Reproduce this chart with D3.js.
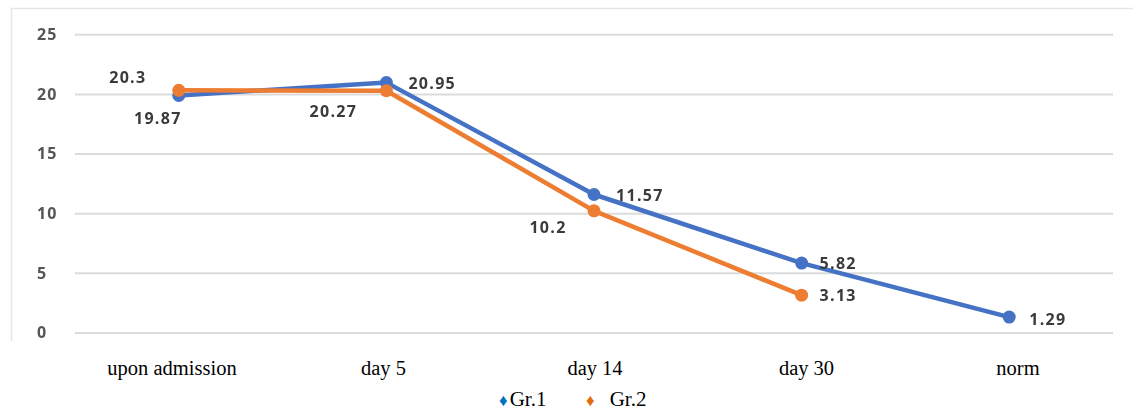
<!DOCTYPE html>
<html>
<head>
<meta charset="utf-8">
<script src="https://cdn.jsdelivr.net/npm/d3@7"></script>
<style>
  html, body { margin: 0; padding: 0; background: #fff; }
  svg { display: block; }
</style>
</head>
<body>
<svg id="chart" width="1133" height="413"></svg>
<script>
// Categories and series
const categories = ["upon admission", "day 5", "day 14", "day 30", "norm"];
const gr1Values = [19.87, 20.95, 11.57, 5.82, 1.29];
const gr2Values = [20.3, 20.27, 10.2, 3.13];
const yTicks = [0, 5, 10, 15, 20, 25];
const seriesNames = ["Gr.1", "Gr.2"];

// Data-label placement per point: [dx, dy, anchor]
const gr1LabelPos = [[-21, 23, "middle"], [22, 1, "start"], [22, 1, "start"], [18, 0, "start"], [20, 2, "start"]];
const gr2LabelPos = [[-51, -13, "middle"], [-53, 21, "middle"], [-46, 16, "middle"], [18, 0, "start"]];

const colors = { gr1: "#4472C4", gr2: "#ED7D31" };
const legendColors = ["#0070C0", "#E36C0A"];

const svg = d3.select("#chart");

// soft look of the embedded spreadsheet graphic
const defs = svg.append("defs");
defs.append("filter").attr("id", "soft")
  .attr("x", "-5%").attr("y", "-5%").attr("width", "110%").attr("height", "110%")
  .append("feGaussianBlur").attr("stdDeviation", 0.6);

const plot = { left: 75, right: 1113, top: 34.3, bottom: 332.5 };

const x = d3.scalePoint().domain(categories).range([plot.left, plot.right]).padding(0.5);
const y = d3.scaleLinear().domain([0, 25]).range([plot.bottom, plot.top]);
// category captions sit on their own slightly wider spacing
const xCaption = d3.scalePoint().domain(categories).range([172, 1018]);

const chart = svg.append("g").attr("filter", "url(#soft)");

// chart frame
chart.append("path")
  .attr("d", "M11.5,341 L11.5,8.5 L1133,8.5")
  .attr("fill", "none").attr("stroke", "#e6e6e6").attr("stroke-width", 1.5);

// gridlines
const yGrid = d3.axisLeft(y).tickValues(yTicks).tickSize(-(plot.right - plot.left)).tickFormat("");
const gridG = chart.append("g").attr("transform", `translate(${plot.left},0)`).call(yGrid);
gridG.select(".domain").remove();
gridG.selectAll("line").attr("stroke", "#dcdcdc").attr("stroke-width", 2);

// y tick labels
chart.append("g").selectAll("text").data(yTicks).join("text")
  .attr("x", 37).attr("y", d => y(d)).attr("dy", "0.36em")
  .attr("font-family", "'Open Sans', sans-serif").attr("font-size", 16)
  .attr("font-weight", 700).attr("letter-spacing", 1.2)
  .attr("fill", "#555").text(d => d);

const line = d3.line().x(d => x(d.cat)).y(d => y(d.v));
const gr1 = gr1Values.map((v, i) => ({ cat: categories[i], v, pos: gr1LabelPos[i] }));
const gr2 = gr2Values.map((v, i) => ({ cat: categories[i], v, pos: gr2LabelPos[i] }));

function drawSeries(data, color) {
  const g = chart.append("g");
  g.append("path").datum(data).attr("d", line)
    .attr("fill", "none").attr("stroke", color).attr("stroke-width", 4.5)
    .attr("stroke-linejoin", "round");
  g.selectAll("circle").data(data).join("circle")
    .attr("cx", d => x(d.cat)).attr("cy", d => y(d.v)).attr("r", 6.5)
    .attr("fill", color);
  return g;
}
drawSeries(gr1, colors.gr1);
drawSeries(gr2, colors.gr2);

function drawLabels(data) {
  chart.append("g").selectAll("text").data(data).join("text")
    .attr("x", d => x(d.cat) + d.pos[0]).attr("y", d => y(d.v) + d.pos[1])
    .attr("dy", "0.36em").attr("text-anchor", d => d.pos[2])
    .attr("font-family", "'Open Sans', sans-serif").attr("font-size", 16)
    .attr("font-weight", 700).attr("letter-spacing", 1.3)
    .attr("fill", "#3a3a3a").text(d => d.v);
}
drawLabels(gr1);
drawLabels(gr2);

// category captions
svg.append("g").selectAll("text").data(categories).join("text")
  .attr("x", d => xCaption(d)).attr("y", 375).attr("text-anchor", "middle")
  .attr("font-family", "'Liberation Serif', 'Times New Roman', serif").attr("font-size", 20.5)
  .attr("fill", "#000").text(d => d);

// legend
const legend = svg.append("g").attr("font-family", "'Liberation Serif', 'Times New Roman', serif")
  .attr("font-size", 21);
const legendX = [499, 586];
seriesNames.forEach((name, i) => {
  const t = legend.append("text").attr("x", legendX[i]).attr("y", 406);
  t.append("tspan").attr("fill", legendColors[i]).attr("font-size", 17).text("\u2666");
  t.append("tspan").attr("fill", "#000").attr("dx", i === 0 ? 2 : 15).text(name);
});
</script>
</body>
</html>
